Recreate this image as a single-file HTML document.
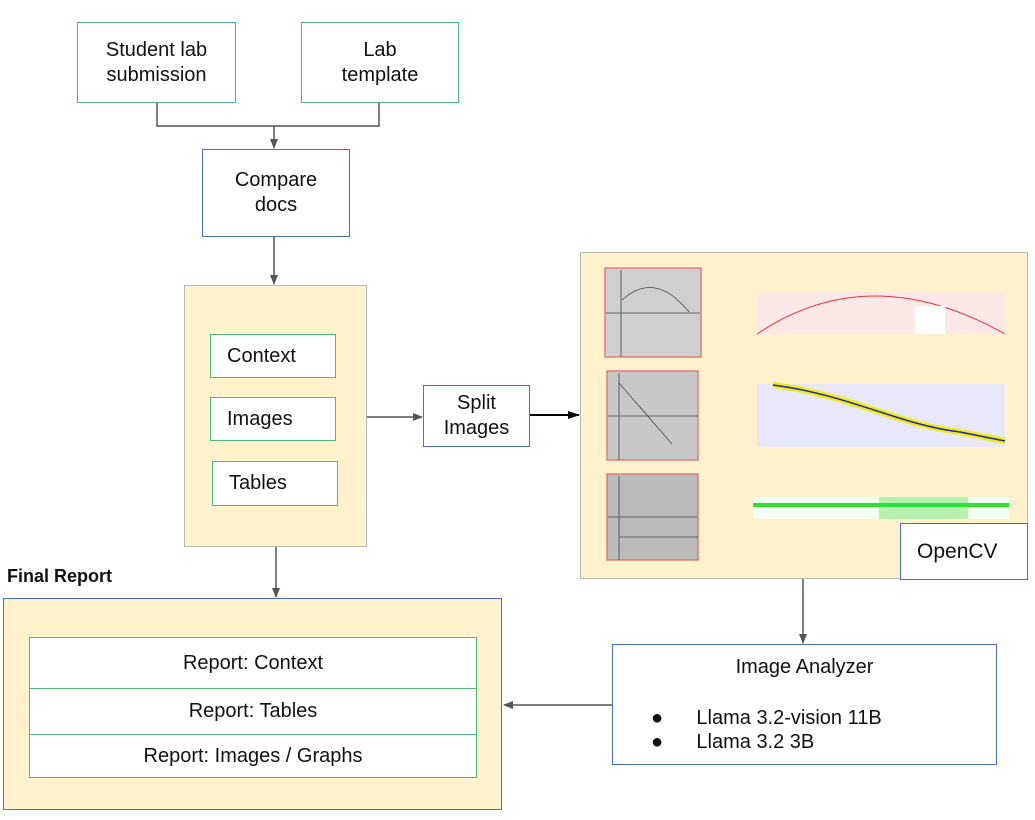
<!DOCTYPE html>
<html><head><meta charset="utf-8"><style>
body{margin:0;width:1035px;height:820px;background:#fff;position:relative;font-family:"Liberation Sans",sans-serif;color:#111;overflow:hidden}
.b{position:absolute;box-sizing:border-box;display:flex;align-items:center;justify-content:center;text-align:center;font-size:20px;line-height:25px}
.g{border:1.5px solid #4fb97a;background:#fff}
.bl{border:1.5px solid #4a6fc9;background:#fff}
.y{background:#fff2cc;border:1.5px solid #b7b7b7}
svg{position:absolute;left:0;top:0}
</style></head><body>
<div class="b g" style="left:77px;top:22px;width:159px;height:81px">Student lab<br>submission</div>
<div class="b g" style="left:301px;top:22px;width:158px;height:81px">Lab<br>template</div>
<div class="b bl" style="left:202px;top:149px;width:148px;height:88px">Compare<br>docs</div>
<div class="b y" style="left:184px;top:285px;width:183px;height:262px"></div>
<div class="b g" style="left:210px;top:334px;width:126px;height:44px;justify-content:flex-start;padding-left:16px">Context</div>
<div class="b g" style="left:210px;top:397px;width:126px;height:44px;justify-content:flex-start;padding-left:16px">Images</div>
<div class="b g" style="left:212px;top:461px;width:126px;height:45px;justify-content:flex-start;padding-left:16px">Tables</div>
<div class="b bl" style="left:423px;top:385px;width:107px;height:62px">Split<br>Images</div>
<div class="b y" style="left:580px;top:252px;width:448px;height:327px"></div>
<div class="b bl" style="left:900px;top:523px;width:128px;height:57px;justify-content:flex-start;padding-left:16px;font-size:21px">OpenCV</div>
<div class="b bl" style="left:612px;top:644px;width:385px;height:121px;display:block;text-align:left">
<div style="text-align:center;margin-top:10px">Image Analyzer</div>
<div style="margin-top:26px;padding-left:38px;line-height:24px">●&nbsp;&nbsp;&nbsp;&nbsp;&nbsp;&nbsp;Llama 3.2-vision 11B</div>
<div style="padding-left:38px;line-height:24px">●&nbsp;&nbsp;&nbsp;&nbsp;&nbsp;&nbsp;Llama 3.2 3B</div>
</div>
<div style="position:absolute;left:7px;top:566px;font-weight:bold;font-size:18px">Final Report</div>
<div class="b" style="left:3px;top:598px;width:499px;height:212px;background:#fff2cc;border:1.5px solid #4a6fc9"></div>
<div class="b g" style="left:29px;top:637px;width:448px;height:52px">Report: Context</div>
<div class="b g" style="left:29px;top:688px;width:448px;height:47px">Report: Tables</div>
<div class="b g" style="left:29px;top:734px;width:448px;height:44px">Report: Images / Graphs</div>
<svg width="1035" height="820">
<defs><marker id="a" markerWidth="10" markerHeight="10" refX="9" refY="5" orient="auto" markerUnits="userSpaceOnUse"><path d="M0,1 L10,5 L0,9z" fill="#555"/></marker>
<marker id="k" markerWidth="12" markerHeight="10" refX="11" refY="5" orient="auto" markerUnits="userSpaceOnUse"><path d="M0,1 L12,5 L0,9z" fill="#000"/></marker></defs>
<g stroke="#555" stroke-width="1.5" fill="none">
<path d="M157,103 V126 H379 V103"/>
<path d="M274,126 V148" marker-end="url(#a)"/>
<path d="M274,237 V284" marker-end="url(#a)"/>
<path d="M367,417 H422" marker-end="url(#a)"/>
<path d="M803,579 V643" marker-end="url(#a)"/>
<path d="M612,705 H504" marker-end="url(#a)"/>
<path d="M276,547 V597" marker-end="url(#a)"/>
</g>
<path d="M530,415 H579" stroke="#000" stroke-width="2" marker-end="url(#k)"/>
<g stroke="#e06666" stroke-width="1.2">
<rect x="605" y="268" width="96" height="89" fill="#cfcfcf"/>
<rect x="607" y="371" width="91" height="89" fill="#c8c8c8"/>
<rect x="607" y="474" width="91" height="86" fill="#bbbbbb"/>
</g>
<g stroke="#444" stroke-width="0.8" fill="none">
<path d="M621,270 V357 M606,313 H700 M622,300 Q655,270 689,312"/>
<path d="M619,373 V460 M608,416 H698 M619,383 L672,444"/>
<path d="M619,476 V560 M608,517 H697 M619,537 H698"/>
</g>
<rect x="757" y="292" width="248" height="42" fill="#fde8e8"/>
<path d="M757,334 Q870,258 1005,334" stroke="#e33" fill="none"/>
<rect x="915" y="306" width="30" height="28" fill="#fff"/>
<rect x="757" y="384" width="248" height="63" fill="#e8e8fa"/>
<path d="M773,385 C850,395 900,425 960,432 L1005,441" stroke="#ee0" stroke-width="6" fill="none"/>
<path d="M773,385 C850,395 900,425 960,432 L1005,441" stroke="#22c" stroke-width="1.5" fill="none"/>
<rect x="753" y="497" width="256" height="22" fill="#f4fff4"/>
<rect x="879" y="497" width="89" height="22" fill="#b8f0b0"/>
<path d="M753,505 H1009" stroke="#3d3" stroke-width="4"/>
</svg>
</body></html>
